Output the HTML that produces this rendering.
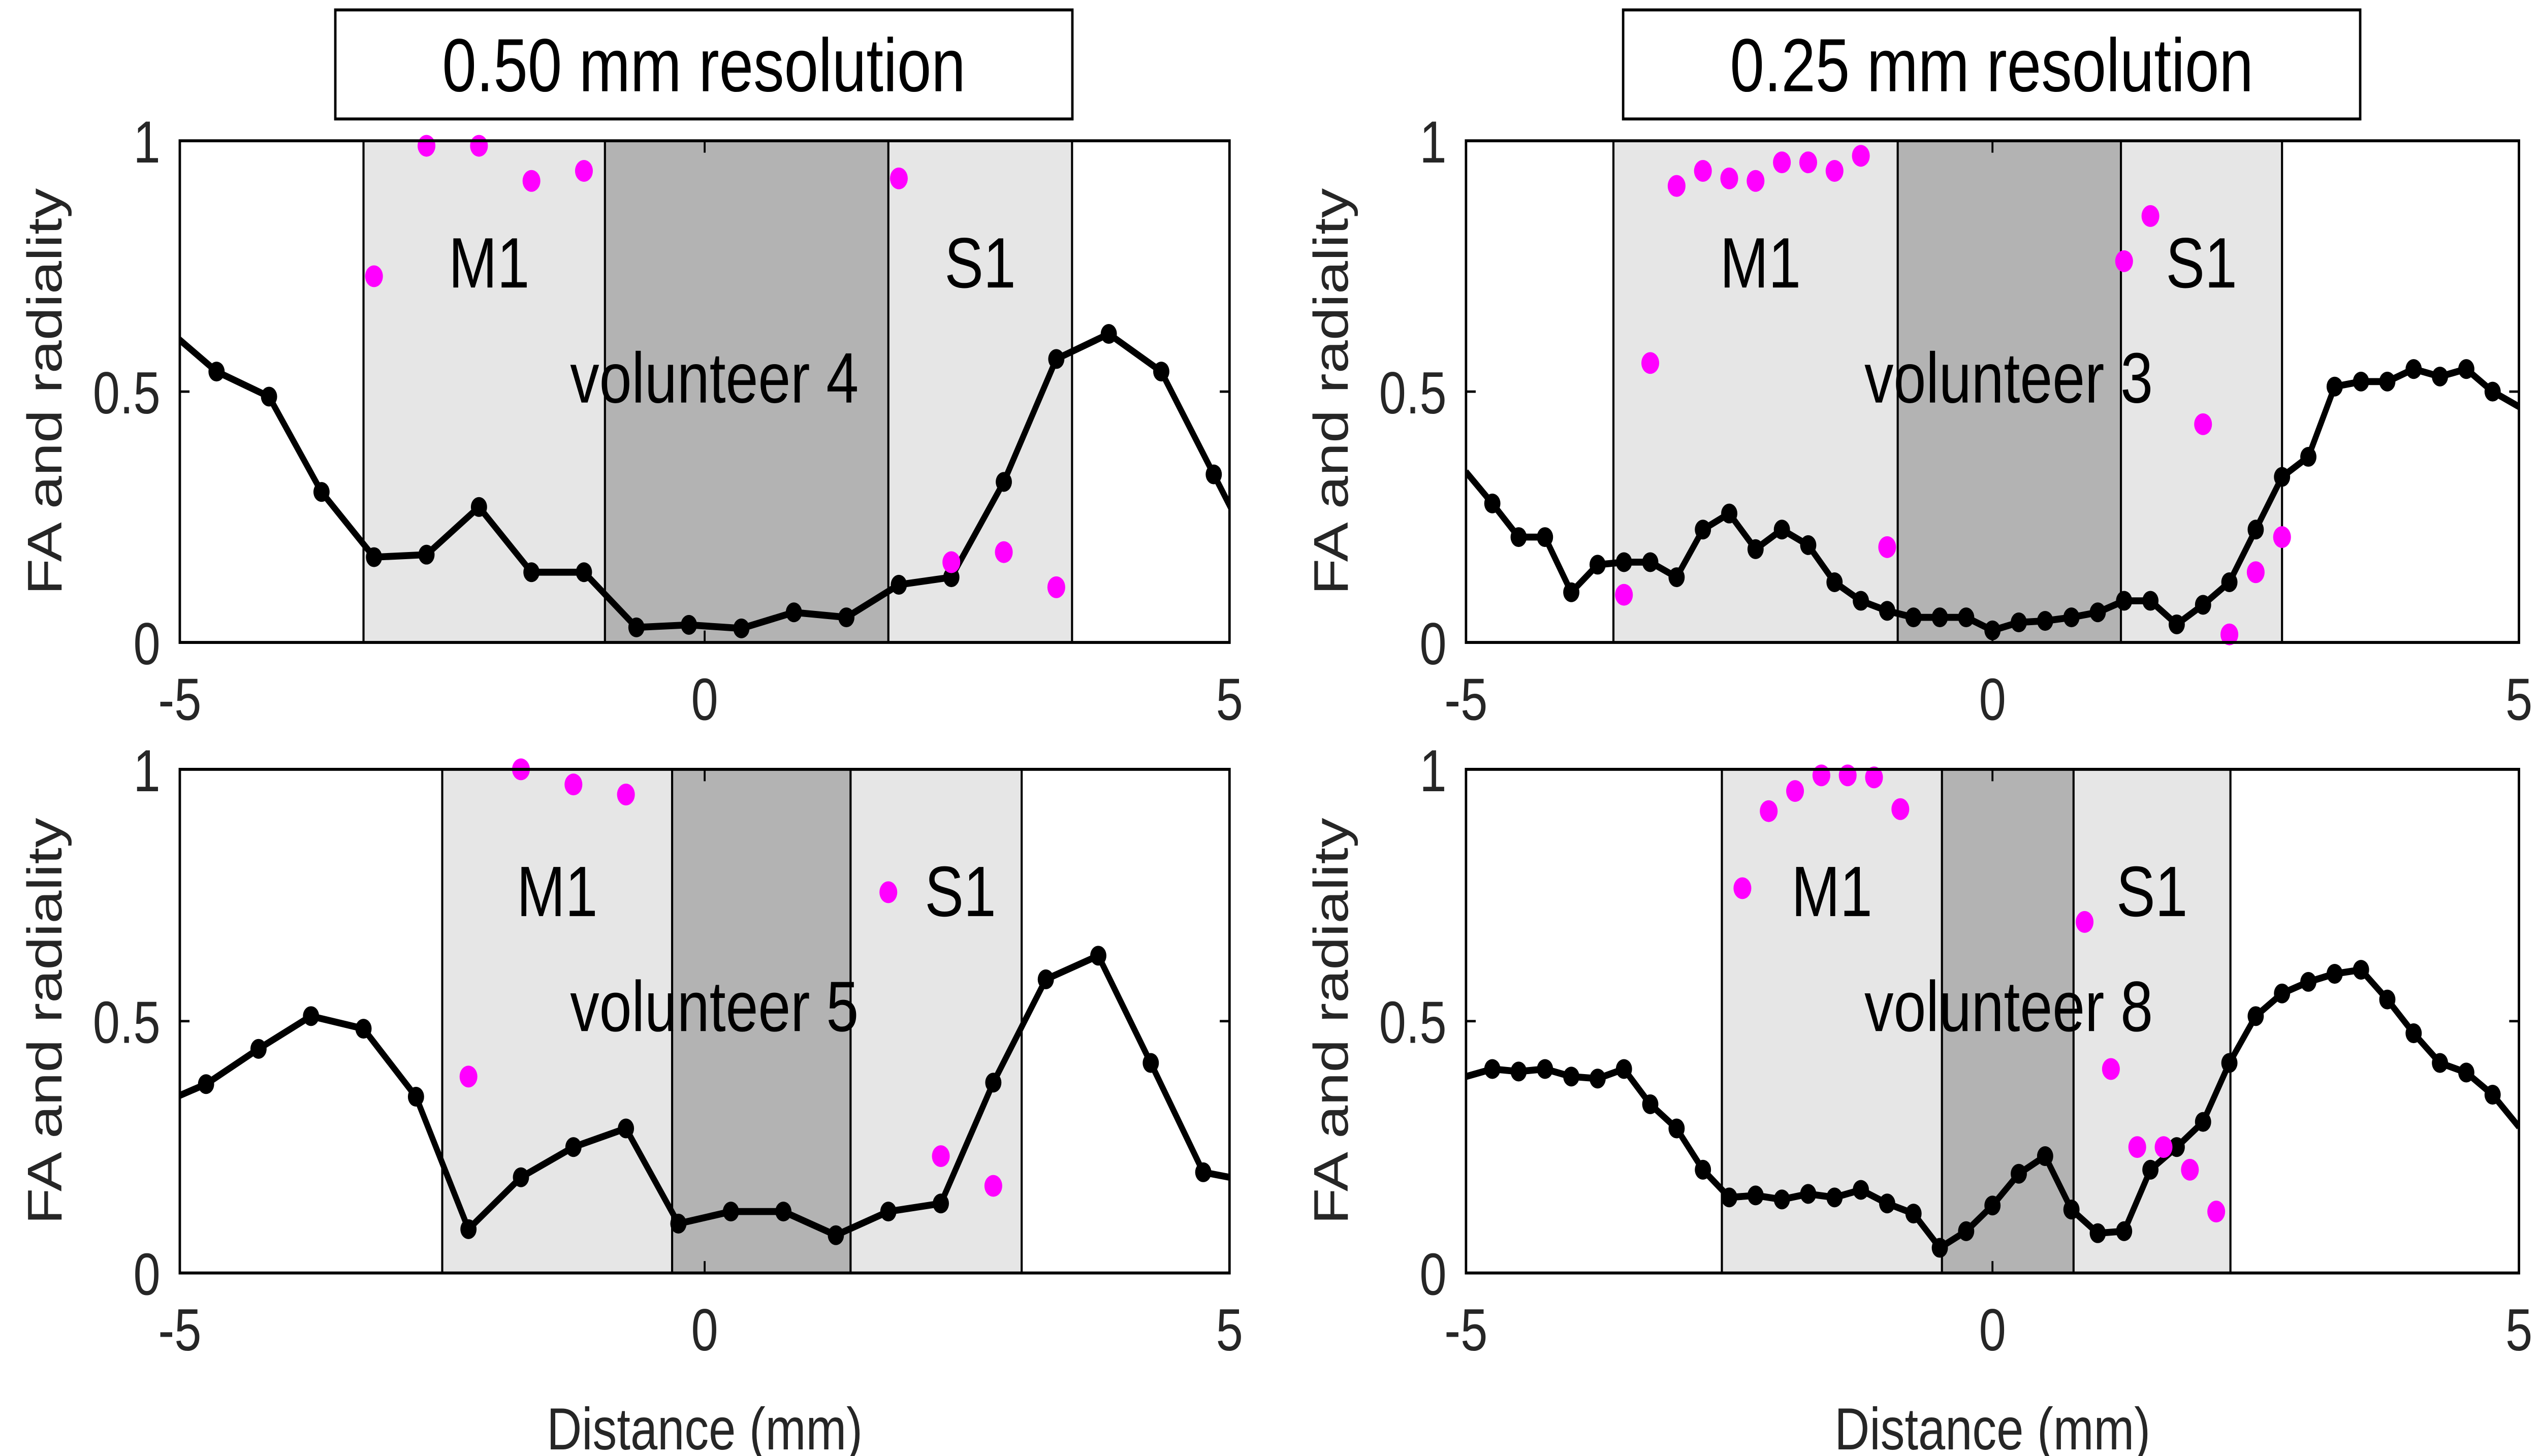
<!DOCTYPE html>
<html><head><meta charset="utf-8"><style>
html,body{margin:0;padding:0;background:#fff;width:100vw;height:100vh;overflow:hidden;}
svg{display:block;width:100vw;height:100vh;font-family:"Liberation Sans","DejaVu Sans",sans-serif;}
</style></head><body>
<svg id="root" viewBox="0 0 1568 734.3" preserveAspectRatio="none" xmlns="http://www.w3.org/2000/svg">
<g id="fig">
<g><rect x="207" y="5" width="455" height="55" fill="#fff" stroke="#000" stroke-width="1.5"/><text x="434.5" y="46" font-size="38" text-anchor="middle" fill="#000">0.50 mm resolution</text></g>
<g><rect x="1002" y="5" width="455" height="55" fill="#fff" stroke="#000" stroke-width="1.5"/><text x="1229.5" y="46" font-size="38" text-anchor="middle" fill="#000">0.25 mm resolution</text></g>
</g>
</svg>
<script>
// ---- data ----
const v4LineX=[-5.15,-4.65,-4.15,-3.65,-3.15,-2.65,-2.15,-1.65,-1.15,-0.65,-0.15,0.35,0.85,1.35,1.85,2.35,2.85,3.35,3.85,4.35,4.85,5.35];
const v4LineY=[0.63,0.54,0.49,0.30,0.17,0.175,0.27,0.14,0.14,0.03,0.035,0.028,0.06,0.05,0.115,0.13,0.32,0.565,0.615,0.54,0.335,0.13];
const v4MagX=[-3.15,-2.65,-2.15,-1.65,-1.15,1.85,2.35,2.85,3.35];
const v4MagY=[0.73,0.99,0.99,0.92,0.94,0.925,0.16,0.18,0.11];
const v4Regions=[-3.25,-0.95,1.75,3.5];

const v3LineX=[];for(let i=0;i<41;i++)v3LineX.push(-5+0.25*i);
const v3LineY=[0.34,0.277,0.21,0.21,0.10,0.155,0.16,0.16,0.13,0.225,0.257,0.186,0.225,0.194,0.12,0.083,0.063,0.05,0.05,0.05,0.024,0.04,0.043,0.05,0.06,0.083,0.083,0.036,0.075,0.12,0.225,0.33,0.37,0.51,0.52,0.52,0.545,0.53,0.545,0.50,0.47];
const v3MagX=[-3.5,-3.25,-3.0,-2.75,-2.5,-2.25,-2.0,-1.75,-1.5,-1.25,-1.0,1.25,1.5,2.0,2.25,2.5,2.75];
const v3MagY=[0.095,0.557,0.91,0.94,0.925,0.92,0.957,0.957,0.94,0.97,0.19,0.76,0.85,0.435,0.016,0.14,0.21];
const v3Regions=[-3.6,-0.9,1.22,2.75];

const v5LineX=[-5.25,-4.75,-4.25,-3.75,-3.25,-2.75,-2.25,-1.75,-1.25,-0.75,-0.25,0.25,0.75,1.25,1.75,2.25,2.75,3.25,3.75,4.25,4.75,5.25];
const v5LineY=[0.33,0.375,0.445,0.51,0.485,0.35,0.087,0.19,0.25,0.287,0.098,0.122,0.122,0.075,0.122,0.138,0.378,0.583,0.63,0.417,0.2,0.18];
const v5MagX=[-2.25,-1.75,-1.25,-0.75,1.75,2.25,2.75];
const v5MagY=[0.39,1.0,0.97,0.95,0.756,0.232,0.173];
const v5Regions=[-2.5,-0.31,1.39,3.02];

const v8LineX=[];for(let i=0;i<41;i++)v8LineX.push(-5+0.25*i);
const v8LineY=[0.39,0.405,0.40,0.405,0.39,0.386,0.405,0.335,0.287,0.205,0.15,0.154,0.146,0.157,0.15,0.165,0.138,0.118,0.05,0.083,0.134,0.197,0.232,0.126,0.079,0.083,0.205,0.25,0.30,0.417,0.51,0.555,0.578,0.594,0.602,0.543,0.476,0.417,0.398,0.354,0.29];
const v8MagX=[-2.375,-2.125,-1.875,-1.625,-1.375,-1.125,-0.875,0.875,1.125,1.375,1.625,1.875,2.125];
const v8MagY=[0.764,0.917,0.957,0.988,0.988,0.984,0.921,0.697,0.405,0.25,0.25,0.205,0.122];
const v8Regions=[-2.57,-0.48,0.77,2.26];

const xTicks=[-5,0,5];
const yTicks=[0,0.5,1];
const xTickLabels=["-5","0","5"];
const yTickLabels=["0","0.5","1"];

const NS="http://www.w3.org/2000/svg";
const svg=document.getElementById('fig');
function el(tag,attrs,parent){const e=document.createElementNS(NS,tag);for(const k in attrs)e.setAttribute(k,attrs[k]);(parent||svg).appendChild(e);return e;}

function panel(cfg){
  const {x0,x1,y0,y1,name}=cfg;
  const sx=v=>x0+(v+5)/10*(x1-x0);
  const sy=v=>y1-v*(y1-y0);
  const g=el('g',{});
  
  
  const clipId='clip-'+name;
  const cp=el('clipPath',{id:clipId},g);el('rect',{x:x0,y:y0,width:x1-x0,height:y1-y0},cp);
  const r=cfg.regions;
  const lr=el('rect',{x:sx(r[0]),y:y0,width:sx(r[3])-sx(r[0]),height:y1-y0,fill:'#e6e6e6'},g);
  
  
  const dr=el('rect',{x:sx(r[1]),y:y0,width:sx(r[2])-sx(r[1]),height:y1-y0,fill:'#b3b3b3'},g);
  
  
  r.forEach(v=>el('line',{x1:sx(v),x2:sx(v),y1:y0,y2:y1,stroke:'#000','stroke-width':1.3},g));
  const t1=el('text',{x:(sx(r[0])+sx(r[1]))/2+cfg.m1dx,y:y0+74,'font-size':36,'text-anchor':'middle',fill:'#000'},g);t1.textContent='M1';
  
  
  const t2=el('text',{x:(sx(r[2])+sx(r[3]))/2+cfg.s1dx,y:y0+74,'font-size':36,'text-anchor':'middle',fill:'#000'},g);t2.textContent='S1';
  
  
  const t3=el('text',{x:(x0+x1)/2+cfg.vdx,y:y0+132,'font-size':36,'text-anchor':'middle',fill:'#000'},g);t3.textContent=cfg.vol;
  
  
  const cg=el('g',{'clip-path':'url(#'+clipId+')'},g);
  let d='';cfg.lx.forEach((v,i)=>{d+=(i?'L':'M')+sx(v).toFixed(2)+','+sy(cfg.ly[i]).toFixed(2);});
  const p=el('path',{d:d,fill:'none',stroke:'#000','stroke-width':3.5,'stroke-linejoin':'round'},cg);
  
  
  cfg.lx.forEach((v,i)=>{if(v>-4.99&&v<4.99){const c=el('circle',{cx:sx(v),cy:sy(cfg.ly[i]),r:5,fill:'#000'},cg);
    
    }});
  cfg.mx.forEach((v,i)=>{const c=el('circle',{cx:sx(v),cy:sy(cfg.my[i]),r:5.5,fill:'#ff00ff'},g);
    
    });
  el('rect',{x:x0,y:y0,width:x1-x0,height:y1-y0,fill:'none',stroke:'#000','stroke-width':1.5},g);
  xTicks.forEach((v,i)=>{el('line',{x1:sx(v),x2:sx(v),y1:y1,y2:y1-6,stroke:'#000','stroke-width':1.2},g);el('line',{x1:sx(v),x2:sx(v),y1:y0,y2:y0+6,stroke:'#000','stroke-width':1.2},g);
    const t=el('text',{x:sx(v),y:y1+39,'font-size':30,'text-anchor':'middle',fill:'#262626'},g);t.textContent=xTickLabels[i];
    
    });
  yTicks.forEach((v,i)=>{el('line',{x1:x0,x2:x0+6,y1:sy(v),y2:sy(v),stroke:'#000','stroke-width':1.2},g);el('line',{x1:x1,x2:x1-6,y1:sy(v),y2:sy(v),stroke:'#000','stroke-width':1.2},g);
    const t=el('text',{x:x0-12,y:sy(v)+11,'font-size':30,'text-anchor':'end',fill:'#262626'},g);t.textContent=yTickLabels[i];
    
    });
  const yl=el('text',{x:0,y:0,'font-size':30,'text-anchor':'middle',fill:'#262626',transform:'translate('+(x0-73)+','+((y0+y1)/2)+') rotate(-90)'},g);yl.textContent='FA and radiality';
  
  
  if(cfg.xlabel){const xl=el('text',{x:(x0+x1)/2,y:y1+89,'font-size':30,'text-anchor':'middle',fill:'#262626'},g);xl.textContent='Distance (mm)';
    
    }
}
panel({name:'panel-volunteer-4',x0:111,x1:759,y0:71,y1:324,regions:v4Regions,lx:v4LineX,ly:v4LineY,mx:v4MagX,my:v4MagY,vol:'volunteer 4',m1dx:3,s1dx:0,vdx:6});
panel({name:'panel-volunteer-3',x0:905,x1:1555,y0:71,y1:324,regions:v3Regions,lx:v3LineX,ly:v3LineY,mx:v3MagX,my:v3MagY,vol:'volunteer 3',m1dx:3,s1dx:0,vdx:10});
panel({name:'panel-volunteer-5',x0:111,x1:759,y0:388,y1:642,regions:v5Regions,lx:v5LineX,ly:v5LineY,mx:v5MagX,my:v5MagY,vol:'volunteer 5',m1dx:0,s1dx:15,vdx:6,xlabel:true});
panel({name:'panel-volunteer-8',x0:905,x1:1555,y0:388,y1:642,regions:v8Regions,lx:v8LineX,ly:v8LineY,mx:v8MagX,my:v8MagY,vol:'volunteer 8',m1dx:0,s1dx:0,vdx:10,xlabel:true});
</script>
</body></html>
